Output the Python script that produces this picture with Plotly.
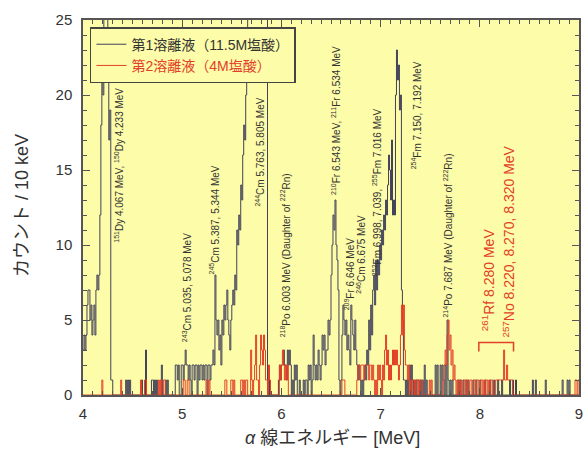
import numpy as np
import plotly.graph_objects as go

# Energy binning: 10 keV bins between 4.00 and 9.00 MeV
E_MIN, E_MAX, BIN = 4.00, 9.00, 0.01

# 1st eluate (11.5 M HCl): runs of consecutive bins (start energy [MeV], counts per bin)
eluate1_run_starts = [4.00, 4.43, 4.59, 5.97]
eluate1_run_counts = [
    [3, 4, 3, 4, 6, 7, 7, 5, 6, 4, 5, 6, 4, 7, 8, 7, 8, 12, 18, 21,
     20, 32, 45, 38, 28, 21, 17, 19, 1, 1],
    [1, 0, 1, 0, 1],
    [1, 0, 0, 0, 3, 0, 0, 0, 0, 0,
     1, 1, 0, 1, 0, 1, 0, 0, 0, 0,
     2, 0, 0, 0, 1, 0, 1, 0, 0, 0,
     0, 0, 0, 0, 2, 2, 1, 2, 0, 0,
     2, 2, 1, 2, 3, 2, 2, 1, 2, 1,
     0, 2, 2, 1, 2, 2, 0, 2, 1, 2,
     2, 1, 2, 1, 2, 2, 0, 2, 2, 1,
     2, 2, 3, 2, 8, 5, 4, 5, 3, 4,
     2, 5, 4, 6, 5, 6, 7, 5, 4, 3,
     5, 6, 7, 6, 8, 7, 11, 10, 12, 11,
     14, 13, 16, 18, 17, 20, 22, 32, 40, 48,
     55, 60, 62, 58, 60, 65, 70, 68, 72, 66,
     60, 55, 50, 44, 38, 33, 28, 1, 1],
    [1, 2, 1, 2, 2, 3, 2, 2, 1, 3,
     2, 3, 2, 0, 1, 0, 2, 1, 2, 0,
     0, 1, 0, 0, 0, 1, 0, 1, 1, 0,
     2, 1, 2, 0, 1, 4, 2, 1, 2, 1,
     3, 2, 1, 2, 4, 3, 4, 2, 3, 3,
     5, 4, 5, 8, 10, 12, 11, 13, 10, 9,
     7, 1, 0, 1, 4, 6, 5, 4, 5, 3,
     4, 3, 2, 6, 5, 4, 3, 5, 3, 2,
     1, 2, 1, 0, 1, 0, 1, 2, 1, 3,
     2, 5, 3, 6, 4, 7, 8, 6, 9, 7,
     9, 8, 10, 9, 11, 10, 12, 11, 13, 12,
     14, 16, 15, 13, 17, 12, 13, 12, 20, 23,
     21, 22, 19, 20, 7, 5, 1, 1, 0, 1,
     0, 1, 2, 0, 2, 1, 0, 1, 0, 1,
     1, 1, 0, 1, 0, 1, 0, 2, 0, 1,
     0, 0, 0, 0, 0, 0, 0, 0, 2, 0,
     2, 0, 0, 2, 0, 2, 1, 0, 2, 0,
     5, 1, 0, 1, 0, 1],
]
# isolated single-count bins of the 1st eluate
eluate1_single_hits = [7.78, 7.80, 7.83, 7.86, 7.88, 7.93, 7.96, 8.00, 8.05, 8.10,
                       8.14, 8.18, 8.22, 8.30, 8.33, 8.36, 8.53, 8.56, 8.66, 8.83,
                       8.88, 8.90]

# 2nd eluate (4 M HCl)
eluate2_run_starts = [5.69, 5.98, 6.76, 7.63, 8.16]
eluate2_run_counts = [
    [3, 1, 0, 1, 2, 4, 1, 1, 0, 2,
     4, 3, 2, 4, 3, 1, 1, 0, 2, 1],
    [2, 1, 2, 3, 2, 1, 2, 1, 2],
    [1, 2, 2, 1, 2, 2, 2, 1, 2, 2,
     2, 2, 1, 2, 2, 1, 2, 1, 0, 1,
     0, 2, 1, 2, 1, 0, 2, 1, 3, 4,
     2, 3, 1, 2, 1, 2, 3, 2, 3, 2,
     3, 2, 1, 2, 4, 6, 4, 6, 3, 2,
     2, 1, 2],
    [1, 2, 3, 2, 4, 5, 3, 4, 2, 3, 1, 2, 1],
    [1, 1, 1, 1, 1, 1, 1, 1, 3, 1, 1, 2, 1, 1, 1, 1, 1],
]
eluate2_single_hits = [4.19, 4.38, 4.58, 4.62, 4.63, 4.76, 4.78, 4.81, 4.82, 5.01,
                       5.02, 5.05, 5.06, 5.24, 5.25, 5.27, 5.43, 5.44, 5.49, 5.50,
                       5.52, 5.59, 5.60, 5.62, 5.64, 5.65, 6.61, 6.62, 6.63, 7.30,
                       7.32, 7.33, 7.35, 7.36, 7.38, 7.40, 7.41, 7.49, 7.51, 7.77,
                       7.79, 7.81, 7.84, 7.85, 7.87, 7.90, 7.91, 7.94, 7.95, 7.97,
                       7.98, 8.01, 8.02, 8.04, 8.06, 8.07, 8.09, 8.11, 8.12, 8.96,
                       8.97, 8.99]

# Nuclide labels: (text, energy position, count at text bottom)
peak_labels = [
    ("<sup>151</sup>Dy 4.067 MeV, <sup>150</sup>Dy 4.233 MeV", 4.355, 10.0),
    ("<sup>243</sup>Cm 5.035, 5.078 MeV", 5.045, 3.4),
    ("<sup>245</sup>Cm 5.387, 5.344 MeV", 5.325, 7.9),
    ("<sup>244</sup>Cm 5.763, 5.805 MeV", 5.775, 12.4),
    ("<sup>218</sup>Po 6.003 MeV (Daughter of <sup>222</sup>Rn)", 6.035, 3.7),
    ("<sup>210</sup>Fr 6.543 MeV, <sup>211</sup>Fr 6.534 MeV", 6.545, 13.2),
    ("<sup>209</sup>Fr 6.646 MeV", 6.685, 5.5),
    ("<sup>246</sup>Cm 6.675 MeV", 6.795, 6.6),
    ("<sup>252</sup>Fm 6.998, 7.039, <sup>255</sup>Fm 7.016 MeV", 6.965, 7.8),
    ("<sup>254</sup>Fm 7.150, 7.192 MeV", 7.355, 14.9),
    ("<sup>214</sup>Po 7.687 MeV (Daughter of <sup>222</sup>Rn)", 7.675, 5.0),
]
rf_labels = [
    ("<sup>261</sup>Rf 8.280 MeV", 8.085, 4.1),
    ("<sup>257</sup>No 8.220, 8.270, 8.320 MeV", 8.285, 3.7),
]
rf_bracket_range = [7.99, 8.34]
rf_bracket_levels = [2.9, 3.5]

legend_names = ["第1溶離液（11.5M塩酸）", "第2溶離液（4M塩酸）"]
x_tick_values = [4, 5, 6, 7, 8, 9]
y_tick_values = [0, 5, 10, 15, 20, 25]

BLACK = "#42425a"
RED = "#e2402a"
TEXT = "#333333"
PLOT_BG = "#fdfca8"
LATIN = "Liberation Sans, Arial, Noto Sans CJK JP"
CJK = "Liberation Sans, Noto Sans CJK JP"

n_bins = int(round((E_MAX - E_MIN) / BIN))


def fill_bins(run_starts, run_counts, singles):
    counts = np.zeros(n_bins)
    for start, vals in zip(run_starts, run_counts):
        i0 = int(round((start - E_MIN) / BIN))
        counts[i0:i0 + len(vals)] += np.asarray(vals, dtype=float)
    for e in singles:
        counts[int(round((e - E_MIN) / BIN))] += 1
    return counts


edges = E_MIN + BIN * np.arange(n_bins + 1)
counts1 = fill_bins(eluate1_run_starts, eluate1_run_counts, eluate1_single_hits)
counts2 = fill_bins(eluate2_run_starts, eluate2_run_counts, eluate2_single_hits)

fig = go.Figure()
for name, cnt, color in [(legend_names[0], counts1, BLACK),
                         (legend_names[1], counts2, RED)]:
    fig.add_trace(go.Scatter(
        x=edges, y=np.append(cnt, cnt[-1]), mode="lines",
        name=f'<span style="color:{color if color == RED else TEXT}">{name}</span>',
        line=dict(color=color, width=1, shape="hv"),
        hoverinfo="skip",
    ))

annotations = []
for text, ex, ey in peak_labels:
    annotations.append(dict(
        x=ex, y=ey, xref="x", yref="y", text=text, textangle=-90,
        showarrow=False, xanchor="center", yanchor="bottom",
        font=dict(family=LATIN, size=10, color=TEXT),
    ))
for text, ex, ey in rf_labels:
    annotations.append(dict(
        x=ex, y=ey, xref="x", yref="y", text=text, textangle=-90,
        showarrow=False, xanchor="center", yanchor="bottom",
        font=dict(family=LATIN, size=14, color=RED),
    ))

# axis titles
annotations.append(dict(
    x=-0.124, y=0.505, xref="paper", yref="paper", text="カウント / 10 keV",
    textangle=-90, showarrow=False, xanchor="center", yanchor="middle",
    font=dict(family=CJK, size=18, color=TEXT),
))
annotations.append(dict(
    x=0.503, y=-0.115, xref="paper", yref="paper",
    text="<i>α</i> 線エネルギー [MeV]",
    showarrow=False, xanchor="center", yanchor="middle",
    font=dict(family=CJK, size=18, color=TEXT),
))

lo, hi = rf_bracket_levels
x0, x1 = rf_bracket_range
shapes = [dict(
    type="path", xref="x", yref="y",
    path=f"M {x0},{lo} L {x0},{hi} L {x1},{hi} L {x1},{lo}",
    line=dict(color=RED, width=1.5),
)]

axis_common = dict(
    showline=True, linecolor="#555555", linewidth=1.5, mirror="allticks",
    ticks="inside", ticklen=7, tickcolor="#555555", tickwidth=1,
    showgrid=False, zeroline=False, ticklabeloverflow="allow",
    tickfont=dict(family=LATIN, size=15, color=TEXT),
)

fig.update_layout(
    width=584, height=451,
    margin=dict(l=83, r=1, t=20, b=56),
    paper_bgcolor="white", plot_bgcolor=PLOT_BG,
    xaxis=dict(range=[E_MIN, E_MAX], tickvals=x_tick_values,
               minor=dict(dtick=0.1, ticks="inside", ticklen=4,
                          tickcolor="#555555"),
               ticklabelstandoff=4, **axis_common),
    yaxis=dict(range=[0, 25], tickvals=y_tick_values,
               minor=dict(dtick=1, ticks="inside", ticklen=4,
                          tickcolor="#555555"),
               ticklabelstandoff=6, **axis_common),
    showlegend=True,
    legend=dict(x=0.014, y=0.981, xanchor="left", yanchor="top",
                bgcolor=PLOT_BG, bordercolor="#444444", borderwidth=1.5,
                font=dict(family=CJK, size=14, color=TEXT),
                itemwidth=30, tracegroupgap=0),
    annotations=annotations,
    shapes=shapes,
)

fig.write_html("out.html")
